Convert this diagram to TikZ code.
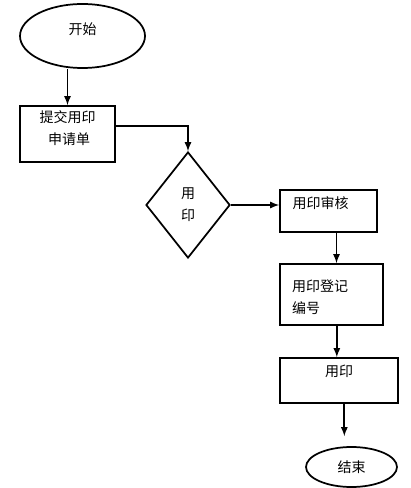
\documentclass[tikz,border=0pt]{standalone}
\usepackage{fontspec}
\setmainfont{Noto Sans CJK SC}
\usepackage{tikz}
\usetikzlibrary{shapes.geometric}

\begin{document}
\begin{tikzpicture}[x=0.75pt, y=-0.75pt, line width=1.3pt, >=latex,
  font=\fontsize{10.5}{16.5}\selectfont,
  box/.style={draw, rectangle, inner sep=0pt},
  oval/.style={draw, ellipse, inner sep=0pt},
  choice/.style={draw, diamond, inner sep=0pt}]
\useasboundingbox (0,0) rectangle (410,488);

% Nodes (pixel coordinates of the page)
\node[oval, minimum width=93.75pt, minimum height=48pt, text height=9pt, text depth=11.5pt] (start) at (82.5,36) {开始};
\node[box, minimum width=71.25pt, minimum height=42pt, align=center, text depth=10pt] (submit) at (67.5,134) {提交用印\\\ 申请单};
\node[choice, minimum width=63pt, minimum height=79.5pt, align=center] (check) at (188,205) {用\\印};
\node[box, minimum width=72.75pt, minimum height=31.5pt, text width=54pt, inner xsep=9pt, align=left, text height=9pt, text depth=13pt] (audit) at (328.5,211) {用印审核};
\node[box, minimum width=77.25pt, minimum height=45.75pt, text width=59pt, inner xsep=9pt, align=left, text depth=14pt] (register) at (331.5,294.5) {用印登记\\编号};
\node[box, minimum width=88.5pt, minimum height=33.75pt, text height=9pt, text depth=15pt] (stamp) at (339,380.5) {用印};
\node[oval, minimum width=68.25pt, minimum height=30pt] (finish) at (351.5,467) {结束};

% Connectors
\draw[->] (submit.north |- start.south) -- (submit.north);
\draw[->] ([yshift=6pt]submit.east) -| (check.north);
\draw[->] (check.east) -- (check.east -| audit.west);
\draw[->] ([xshift=6pt]audit.south) -- ([xshift=6pt]audit.south |- register.north);
\draw[->] ([xshift=4pt]register.south) -- ([xshift=4pt]register.south |- stamp.north);
\draw[->, shorten >=7.5pt] ([xshift=4pt]stamp.south) -- ([xshift=4pt]stamp.south |- finish.north);
\end{tikzpicture}
\end{document}
